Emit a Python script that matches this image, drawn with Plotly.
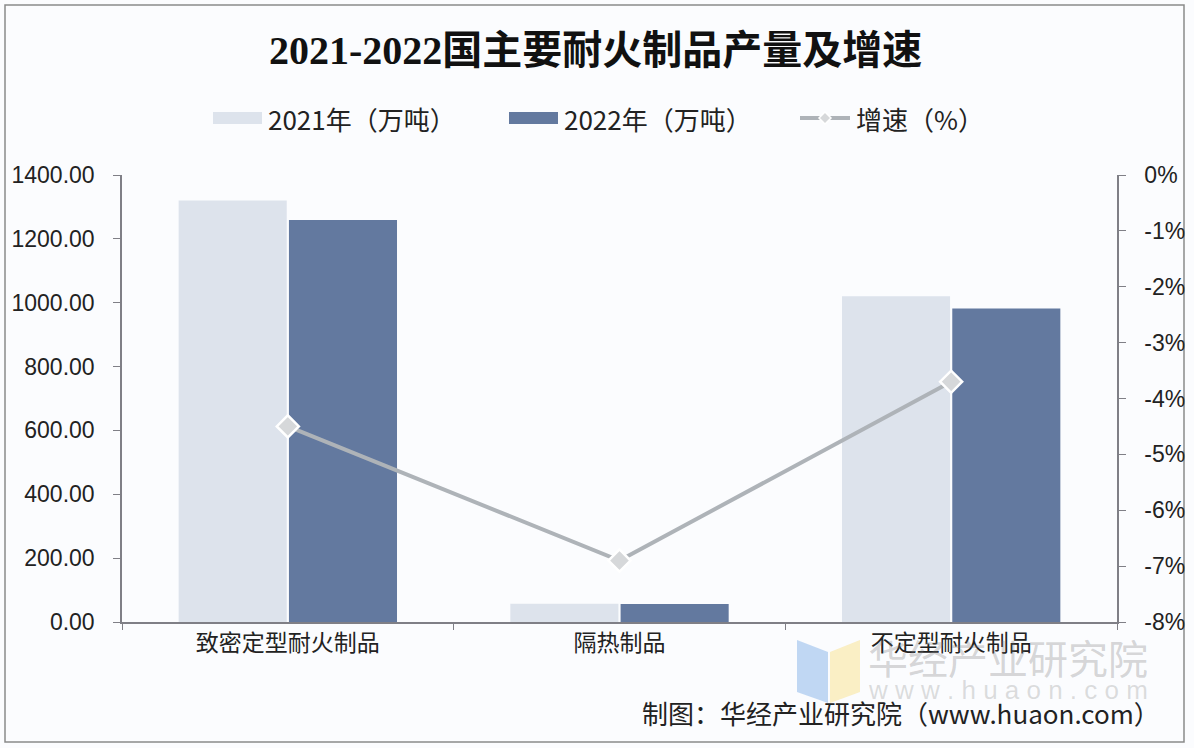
import plotly.graph_objects as go

categories = ["致密定型耐火制品", "隔热制品", "不定型耐火制品"]
prod_2021 = [1320, 57, 1020]
prod_2022 = [1259, 56, 982]
growth = [-4.5, -6.9, -3.7]
y_ticks = [0, 200, 400, 600, 800, 1000, 1200, 1400]
y2_ticks = [-8, -7, -6, -5, -4, -3, -2, -1, 0]
y2_labels = ["-8%", "-7%", "-6%", "-5%", "-4%", "-3%", "-2%", "-1%", "0%"]

W, H = 1194, 748
L, R, T, B = 122, 1117, 175, 622

def px(x):
    return (x - L) / (R - L)

def py(y):
    return (B - y) / (B - T)

C2021 = "#dde3ec"
C2022 = "#63799f"
CLINE = "#aeb3b8"
AXC = "#7f7f86"

fig = go.Figure()
fig.add_trace(go.Bar(x=categories, y=prod_2021, name="2021年（万吨）",
                     marker=dict(color=C2021, line=dict(width=0)), showlegend=False))
fig.add_trace(go.Bar(x=categories, y=prod_2022, name="2022年（万吨）",
                     marker=dict(color=C2022, line=dict(width=0)), showlegend=False))
fig.add_trace(go.Scatter(x=categories, y=growth, name="增速（%）", yaxis="y2",
                         mode="lines+markers",
                         line=dict(color=CLINE, width=4),
                         marker=dict(symbol="diamond", size=17, color="#d6d8da",
                                     line=dict(color="white", width=2.5)),
                         showlegend=False))

shapes = []
annotations = []

# outer border
shapes.append(dict(type="rect", xref="paper", yref="paper",
                   x0=px(5), x1=px(1184), y0=py(742), y1=py(5),
                   line=dict(color="#8a8a8a", width=1.5), fillcolor="rgba(0,0,0,0)", layer="below"))

# watermark logo
shapes.append(dict(type="path", xref="paper", yref="paper",
                   path=f"M {px(797)},{py(640)} L {px(828)},{py(652)} L {px(828)},{py(703)} L {px(797)},{py(692)} Z",
                   fillcolor="rgba(120,170,230,0.45)", line=dict(width=0)))
shapes.append(dict(type="path", xref="paper", yref="paper",
                   path=f"M {px(830)},{py(652)} L {px(860)},{py(640)} L {px(860)},{py(692)} L {px(830)},{py(703)} Z",
                   fillcolor="rgba(250,225,140,0.5)", line=dict(width=0)))
annotations.append(dict(text="华经产业研究院", xref="paper", yref="paper",
                        x=px(1150), y=py(657), xanchor="right", yanchor="middle",
                        showarrow=False, font=dict(family="Noto Sans CJK SC", size=40, color="rgba(120,120,120,0.3)")))
annotations.append(dict(text="w w w . h u a o n . c o m", xref="paper", yref="paper",
                        x=px(1150), y=py(690), xanchor="right", yanchor="middle",
                        showarrow=False, font=dict(family="Liberation Sans", size=26, color="rgba(120,120,120,0.25)")))

# custom legend
leg_font = dict(family="Noto Sans CJK SC", size=26, color="#222222")
shapes.append(dict(type="rect", xref="paper", yref="paper",
                   x0=px(213), x1=px(262), y0=py(124), y1=py(112),
                   fillcolor=C2021, line=dict(width=0)))
annotations.append(dict(text="2021年（万吨）", xref="paper", yref="paper", x=px(266), y=py(118),
                        xanchor="left", yanchor="middle", showarrow=False, font=leg_font))
shapes.append(dict(type="rect", xref="paper", yref="paper",
                   x0=px(509), x1=px(558), y0=py(124), y1=py(112),
                   fillcolor=C2022, line=dict(width=0)))
annotations.append(dict(text="2022年（万吨）", xref="paper", yref="paper", x=px(562), y=py(118),
                        xanchor="left", yanchor="middle", showarrow=False, font=leg_font))
shapes.append(dict(type="line", xref="paper", yref="paper",
                   x0=px(800), x1=px(850), y0=py(118), y1=py(118),
                   line=dict(color=CLINE, width=4)))
shapes.append(dict(type="path", xref="paper", yref="paper",
                   path=f"M {px(825)},{py(112)} L {px(831)},{py(118)} L {px(825)},{py(124)} L {px(819)},{py(118)} Z",
                   fillcolor="#d6d8da", line=dict(color="white", width=1.5)))
annotations.append(dict(text="增速（%）", xref="paper", yref="paper", x=px(854), y=py(118),
                        xanchor="left", yanchor="middle", showarrow=False, font=leg_font))

# title
annotations.append(dict(text="<b>2021-2022国主要耐火制品产量及增速</b>", xref="paper", yref="paper",
                        x=px(595), y=py(50), xanchor="center", yanchor="middle", showarrow=False,
                        font=dict(family="Liberation Serif, Noto Sans CJK SC", size=40, color="#111111")))
# source
annotations.append(dict(text="制图：华经产业研究院（www.huaon.com）", xref="paper", yref="paper",
                        x=px(1162), y=py(712), xanchor="right", yanchor="middle", showarrow=False,
                        font=dict(family="Noto Sans CJK SC", size=26, color="#222222")))

tick_font = dict(family="Liberation Sans", size=23, color="#222222")

fig.update_layout(
    width=W, height=H,
    margin=dict(l=L, r=W - R, t=T, b=H - B, pad=0, autoexpand=False),
    paper_bgcolor="#fbfcfe", plot_bgcolor="#fbfcfe",
    barmode="group", bargap=0.335, bargroupgap=0.02,
    showlegend=False,
    shapes=shapes, annotations=annotations,
    xaxis=dict(showline=True, linecolor=AXC, linewidth=1.5, ticks="outside", tickson="boundaries",
               ticklen=6, tickcolor=AXC, showgrid=False, automargin=False,
               tickfont=dict(family="Noto Sans CJK SC", size=23, color="#222222")),
    yaxis=dict(range=[0, 1400], tickvals=y_ticks, tickformat=".2f", showline=True, linecolor=AXC,
               linewidth=1.5, ticks="outside", ticklen=7, tickcolor=AXC, showgrid=False,
               zeroline=False, tickfont=tick_font, ticklabelstandoff=14, automargin=False),
    yaxis2=dict(range=[-8, 0], tickvals=y2_ticks, ticktext=y2_labels, overlaying="y", side="right",
                showline=True, linecolor=AXC, linewidth=1.5, ticks="outside", ticklen=7,
                tickcolor=AXC, showgrid=False, zeroline=False, tickfont=tick_font,
                ticklabelstandoff=14, automargin=False),
)

fig.write_html("out.html")
